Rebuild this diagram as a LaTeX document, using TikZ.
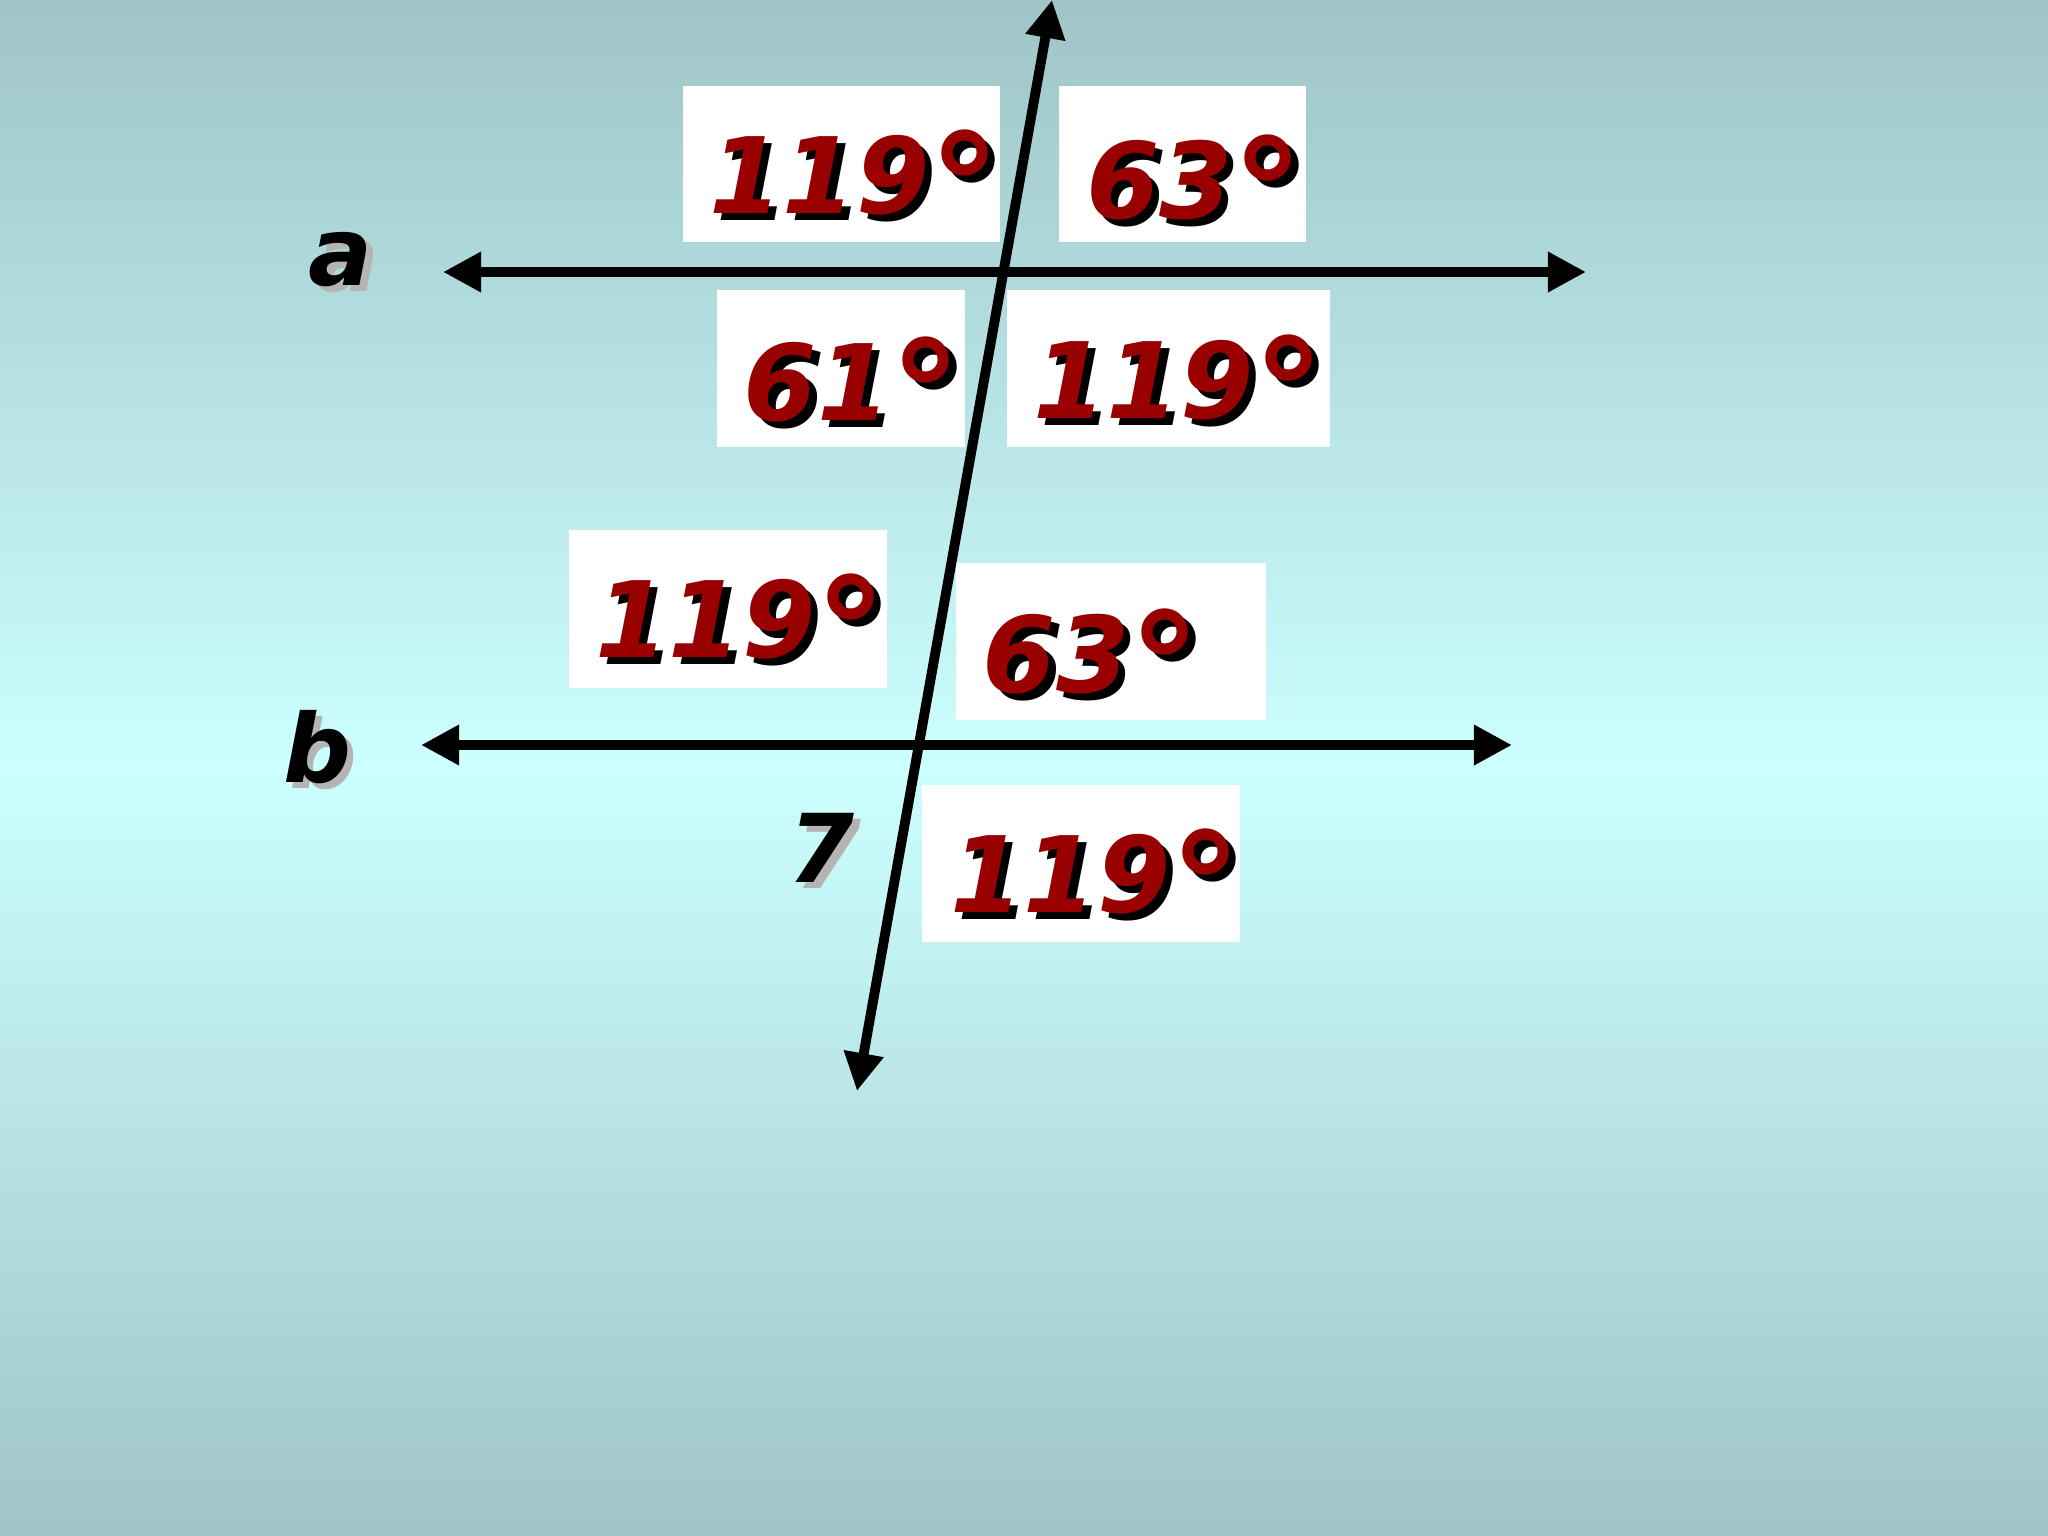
\documentclass[tikz,border=0pt]{standalone}
\usepackage{fontspec}
\setmainfont{DejaVu Sans}
\usetikzlibrary{arrows.meta}
\definecolor{bgtop}{HTML}{9FC4C6}
\definecolor{bgmid}{HTML}{CCFFFF}
\definecolor{anglered}{HTML}{990000}
\definecolor{shadowgray}{HTML}{B4B4B4}
\newcommand\shadowed[3]{\rlap{\hspace{.07em}\raisebox{-.07em}{\color{#2}#3}}{\color{#1}#3}}
\newcommand\bigdeg{\raisebox{-.22em}{\scalebox{1.35}{°}}}
\begin{document}
\begin{tikzpicture}[x=0.01cm,y=-0.01cm,
  box/.style={fill=white,inner sep=0pt},
  deg/.style={anchor=base,inner sep=0pt,font=\fontsize{30}{36}\selectfont\bfseries\itshape},
  lbl/.style={anchor=base,inner sep=0pt,font=\fontsize{27}{32}\selectfont\bfseries\itshape},
  parline/.style={line width=2.8pt,{Triangle[length=0.38cm,width=0.38cm]}-{Triangle[length=0.38cm,width=0.38cm]}}]
\shade[top color=bgtop,bottom color=bgtop,middle color=bgmid] (0,0) rectangle (2048,1536);
\useasboundingbox (0,0) rectangle (2048,1536);
\node[box,minimum width=3.17cm,minimum height=1.56cm] (b1) at (841.5,164) {};
\node[box,minimum width=2.47cm,minimum height=1.56cm] (b2) at (1182.5,164) {};
\node[box,minimum width=2.48cm,minimum height=1.57cm] (b3) at (841,368.5) {};
\node[box,minimum width=3.23cm,minimum height=1.57cm] (b4) at (1168.5,368.5) {};
\node[box,minimum width=3.18cm,minimum height=1.58cm] (b5) at (728,609) {};
\node[box,minimum width=3.10cm,minimum height=1.57cm] (b6) at (1111,641.5) {};
\node[box,minimum width=3.18cm,minimum height=1.57cm] (b7) at (1081,863.5) {};
\node[deg] (t1) at (855,213) {\shadowed{anglered}{black}{119\bigdeg}};
\node[deg] (t2) at (1195,218) {\shadowed{anglered}{black}{63\bigdeg}};
\node[deg] (t3) at (853,420) {\shadowed{anglered}{black}{61\bigdeg}};
\node[deg] (t4) at (1179,418) {\shadowed{anglered}{black}{119\bigdeg}};
\node[deg] (t5) at (741,657) {\shadowed{anglered}{black}{119\bigdeg}};
\node[deg] (t6) at (1092,692) {\shadowed{anglered}{black}{63\bigdeg}};
\node[deg] (t7) at (1096,912) {\shadowed{anglered}{black}{119\bigdeg}};
\node[lbl] (la) at (341,285) {\shadowed{black}{shadowgray}{a}};
\node[lbl] (lb) at (317,782) {\shadowed{black}{shadowgray}{b}};
\node[lbl] (l7) at (822,882) {\shadowed{black}{shadowgray}{7}};
\coordinate (aw) at (443,272);
\coordinate (ae) at (1586,272);
\coordinate (bw) at (421,745);
\coordinate (be) at (1512,745);
\coordinate (tn) at (1052,0);
\coordinate (ts) at (857,1091);
\draw[parline] (aw) -- (ae);
\draw[parline] (bw) -- (be);
\draw[parline] (ts) -- (tn);
\end{tikzpicture}
\end{document}
